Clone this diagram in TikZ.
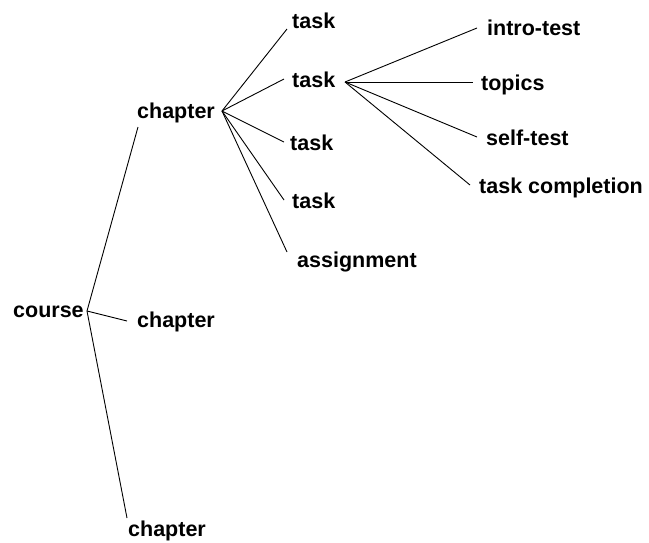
\documentclass[tikz,border=0pt]{standalone}
\usepackage{fontspec}
\setmainfont{Liberation Sans}
\begin{document}
\begin{tikzpicture}[x=1pt,y=-1pt,
  lbl/.style={anchor=base west,inner sep=0pt,font=\bfseries\fontsize{21.5}{25}\selectfont},
  edge/.style={draw=black,line width=0.9pt}]
\useasboundingbox (0,0) rectangle (649,542);
% labels
\node[lbl] (course) at (13,317) {course};
\node[lbl] (ch1) at (137,118) {chapter};
\node[lbl] (ch2) at (137,327) {chapter};
\node[lbl] (ch3) at (128,536) {chapter};
\node[lbl] (t1) at (292,28) {task};
\node[lbl] (t2) at (292,87) {task};
\node[lbl] (t3) at (290,150) {task};
\node[lbl] (t4) at (292,208) {task};
\node[lbl] (asg) at (297,267) {assignment};
\node[lbl] (intro) at (487,35) {intro-test};
\node[lbl] (topics) at (481,90) {topics};
\node[lbl] (self) at (486,145) {self-test};
\node[lbl] (compl) at (479,193) {task completion};
% hubs and ends
\coordinate (hc) at (87,311);
\coordinate (h1) at (222,111);
\coordinate (h2) at (345,82);
\coordinate (ech1) at (138,127);
\coordinate (ech2) at (127,321);
\coordinate (ech3) at (127,518);
\coordinate (et1) at (287,29);
\coordinate (et2) at (284,79);
\coordinate (et3) at (284,142);
\coordinate (et4) at (284,200);
\coordinate (easg) at (287,252);
\coordinate (eintro) at (477,28);
\coordinate (etop) at (473,82);
\coordinate (eself) at (477,137);
\coordinate (ecompl) at (470,185);
% connectors
\draw[edge] (hc) -- (ech1);
\draw[edge] (hc) -- (ech2);
\draw[edge] (hc) -- (ech3);
\draw[edge] (h1) -- (et1);
\draw[edge] (h1) -- (et2);
\draw[edge] (h1) -- (et3);
\draw[edge] (h1) -- (et4);
\draw[edge] (h1) -- (easg);
\draw[edge] (h2) -- (eintro);
\draw[edge] (h2) -- (etop);
\draw[edge] (h2) -- (eself);
\draw[edge] (h2) -- (ecompl);
\end{tikzpicture}
\end{document}
